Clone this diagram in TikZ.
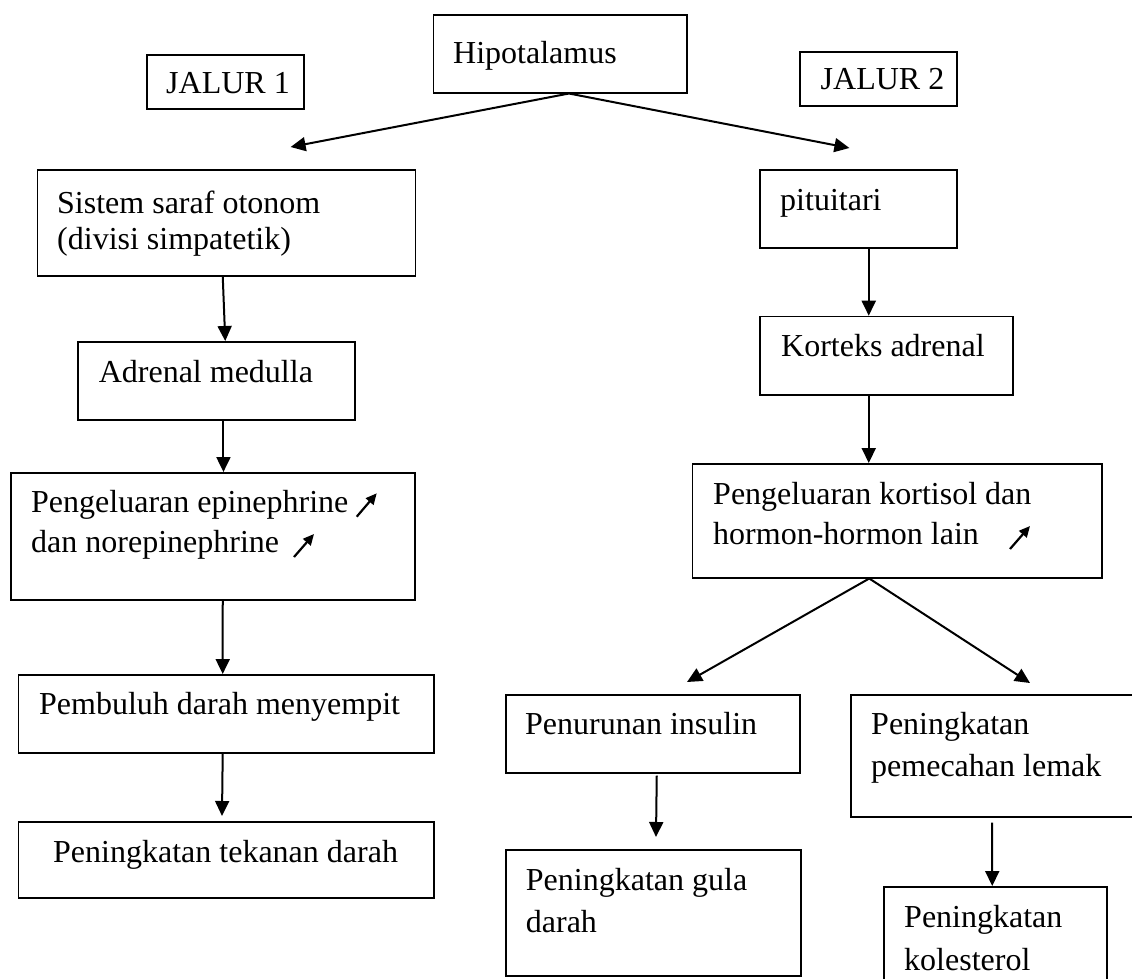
\documentclass[tikz,border=0pt]{standalone}
\usepackage{fontspec}
\setmainfont{Liberation Serif}
\usetikzlibrary{arrows.meta}
\tikzset{
  box/.style={draw, line width=1.5pt, rectangle, inner sep=0pt, anchor=north west},
  txt/.style={anchor=base west, inner sep=0pt, font=\fontsize{32}{41}\selectfont},
  arr/.style={line width=2pt, -{Triangle[length=15pt,width=14pt]}},
  up/.style={line width=2.2pt, -{Triangle[length=11pt,width=10pt]}}
}
\begin{document}
\begin{tikzpicture}[x=1pt,y=-1pt]
\useasboundingbox (0,0) rectangle (1132,978);
\clip (0,0) rectangle (1132,978);

% boxes
\node[box, minimum width=253.5pt, minimum height=78pt] (hip) at (432.5,14) {};
\node[box, minimum width=157pt, minimum height=54pt] (j1) at (146,54) {};
\node[box, minimum width=157pt, minimum height=54pt] (j2) at (799,51) {};
\node[box, minimum width=378pt, minimum height=106pt] (sis) at (36.5,169) {};
\node[box, minimum width=277pt, minimum height=78pt] (adr) at (77,341) {};
\node[box, minimum width=404pt, minimum height=127pt] (peng) at (10,472) {};
\node[box, minimum width=415.3pt, minimum height=78pt] (pemb) at (17.7,674) {};
\node[box, minimum width=415.3pt, minimum height=76pt] (tek) at (17.7,821) {};
\node[box, minimum width=197pt, minimum height=78pt] (pit) at (759,169) {};
\node[box, minimum width=253pt, minimum height=78.3pt] (kor) at (759,315.7) {};
\node[box, minimum width=409.8pt, minimum height=114pt] (kort) at (691.6,463) {};
\node[box, minimum width=294pt, minimum height=78pt] (pen) at (505,694) {};
\node[box, minimum width=295pt, minimum height=126pt] (gula) at (505,849) {};
\node[box, minimum width=300pt, minimum height=122pt] (lem) at (850,694) {};
\node[box, minimum width=223pt, minimum height=120pt] (kol) at (883,886) {};

% texts
\node[txt] (thip) at (453,63) {Hipotalamus};
\node[txt] (tj1) at (166,93) {JALUR 1};
\node[txt] (tj2) at (820.5,89) {JALUR 2};
\node[txt] (tsis1) at (57,213) {Sistem saraf otonom};
\node[txt] (tsis2) at (57,249) {(divisi simpatetik)};
\node[txt] (tadr) at (98.6,382) {Adrenal medulla};
\node[txt] (tpeng1) at (31,512) {Pengeluaran epinephrine};
\node[txt] (tpeng2) at (31,552) {dan norepinephrine};
\node[txt] (tpemb) at (39,714) {Pembuluh darah menyempit};
\node[txt] (ttek) at (53,862) {Peningkatan tekanan darah};
\node[txt] (tpit) at (780,210) {pituitari};
\node[txt] (tkor) at (781,356) {Korteks adrenal};
\node[txt] (tkort1) at (713,504) {Pengeluaran kortisol dan};
\node[txt] (tkort2) at (713,544) {hormon-hormon lain};
\node[txt] (tpen) at (525,734) {Penurunan insulin};
\node[txt] (tgula1) at (525.7,890) {Peningkatan gula};
\node[txt] (tgula2) at (525.7,932) {darah};
\node[txt] (tlem1) at (871,734) {Peningkatan};
\node[txt] (tlem2) at (871,776) {pemecahan lemak};
\node[txt] (tkol1) at (904,927) {Peningkatan};
\node[txt] (tkol2) at (904,970) {kolesterol};

% small increase arrows
\draw[up] (356.7,516.7) -- (376.7,493.3);
\draw[up] (294,557) -- (314,534);
\draw[up] (1010,549) -- (1030,526);

% connector end points
\coordinate (sisin) at (290.6,147);
\coordinate (pitin) at (849.4,148);
\coordinate (tekin) at (222,816);
\coordinate (penin) at (687,682);
\coordinate (lemin) at (1030,683);
\coordinate (gulain) at (656,837);

% connectors
\draw[arr] ([xshift=9pt]hip.south) -- (sisin);
\draw[arr] ([xshift=9pt]hip.south) -- (pitin);
\draw[arr] ([xshift=-3.5pt]sis.south) -- ([xshift=-1pt]adr.north -| sis.south);
\draw[arr] ([xshift=7.2pt]adr.south) -- ([xshift=10.7pt]peng.north);
\draw[arr] ([xshift=10pt]peng.south) -- ([xshift=-3.4pt]pemb.north);
\draw[arr] ([xshift=-3.4pt]pemb.south) -- (tekin);
\draw[arr] ([xshift=10.5pt]pit.south) -- ([xshift=-17.5pt]kor.north);
\draw[arr] ([xshift=-17.5pt]kor.south) -- ([xshift=-28.5pt]kort.north);
\draw[arr] ([xshift=-28pt]kort.south) -- (penin);
\draw[arr] ([xshift=-28pt]kort.south) -- (lemin);
\draw[arr] ([xshift=4pt,yshift=-2pt]pen.south) -- (gulain);
\draw[arr] ([xshift=-8.6pt,yshift=-5pt]lem.south) -- ([xshift=-3pt]kol.north);
\end{tikzpicture}
\end{document}
